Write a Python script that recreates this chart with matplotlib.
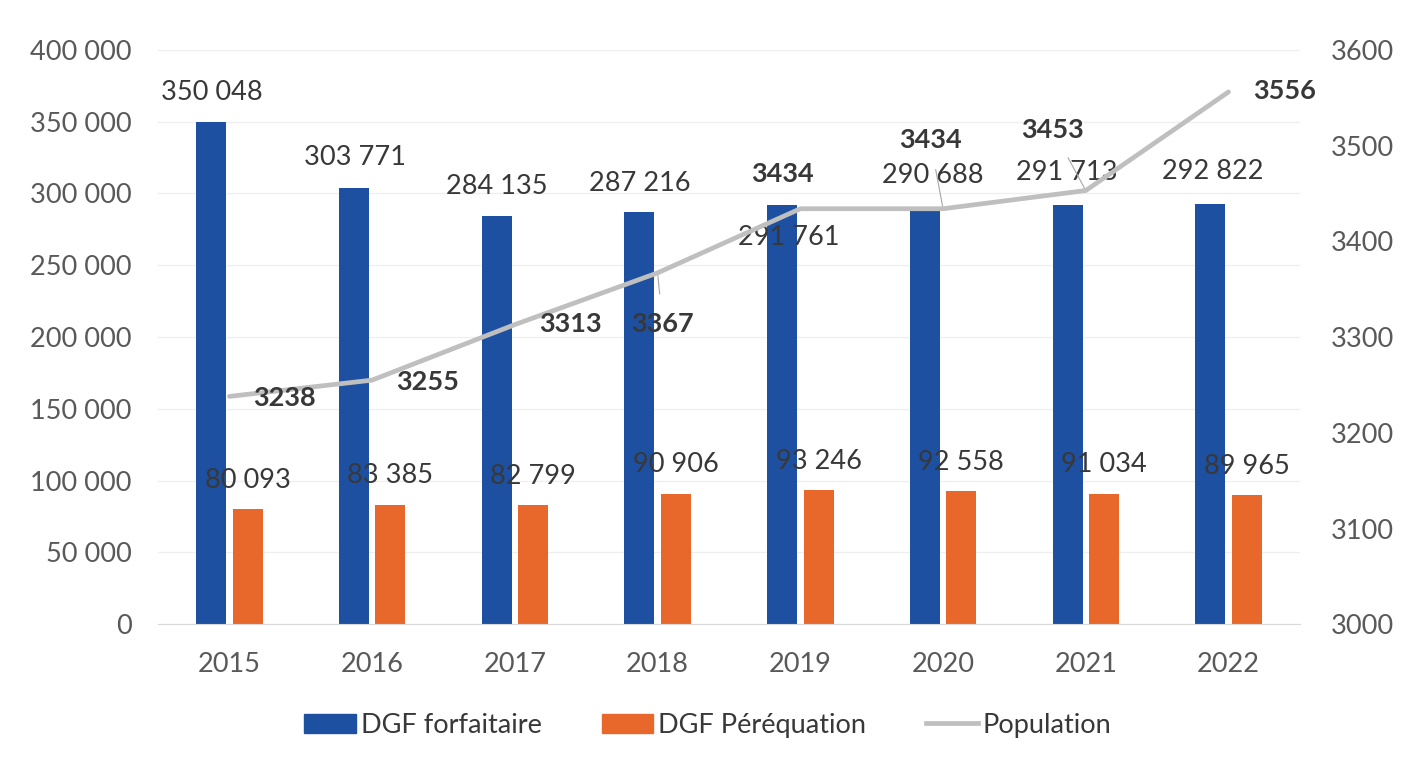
import matplotlib
matplotlib.use("Agg")
import matplotlib.pyplot as plt
from matplotlib.patches import Patch
from matplotlib.lines import Line2D
from matplotlib.ticker import FuncFormatter, MultipleLocator

years = ["2015", "2016", "2017", "2018", "2019", "2020", "2021", "2022"]
dgf_forfaitaire = [350048, 303771, 284135, 287216, 291761, 290688, 291713, 292822]
dgf_perequation = [80093, 83385, 82799, 90906, 93246, 92558, 91034, 89965]
population = [3238, 3255, 3313, 3367, 3434, 3434, 3453, 3556]

# label offsets in pixels (dx, dy) -- styling only
blue_off = [(1, 29), (1, 30), (0, 30), (0, 28), (7, -32), (8, 31), (-1, 33), (2, 32)]
pop_off = [(55, -2), (55, -2), (56, 1), (5, -51), (-18, 35), (-13, 69), (-33, 61), (56, 1)]
pop_leader = [False, False, False, True, False, True, True, False]

BLUE = "#1D50A0"
ORANGE = "#E8672A"
GRAY = "#BFBFBF"
TXT = "#383838"
TICK = "#595959"
FONT = "Lato"

plt.rcParams["font.family"] = [FONT, "DejaVu Sans"]

fig = plt.figure(figsize=(14.16, 7.66), dpi=100)
ax = fig.add_axes([0.1116, 0.185, 0.8064, 0.75])
ax2 = ax.twinx()

x = list(range(len(years)))
w = 0.21
off = 0.128
xb = [i - off for i in x]
xo = [i + off for i in x]
ax.bar(xb, dgf_forfaitaire, width=w, color=BLUE, zorder=2)
ax.bar(xo, dgf_perequation, width=w, color=ORANGE, zorder=2)
ax2.plot(x, population, color=GRAY, lw=3.4, zorder=3, solid_capstyle="round")

ax.set_xlim(-0.5, len(years) - 0.5)
ax.set_ylim(0, 400000)
ax2.set_ylim(3000, 3600)
ax.yaxis.set_major_locator(MultipleLocator(50000))
ax2.yaxis.set_major_locator(MultipleLocator(100))
ax.yaxis.set_major_formatter(FuncFormatter(lambda v, p: f"{int(v):,}".replace(",", " ")))
ax.set_xticks(x)
ax.set_xticklabels(years)

fs = 19.5
for a in (ax, ax2):
    for s in a.spines.values():
        s.set_visible(False)
    a.tick_params(length=0, labelsize=fs, labelcolor=TICK)
ax.spines["bottom"].set_visible(True)
ax.spines["bottom"].set_color("#D9D9D9")
ax.tick_params(axis="x", pad=20)
ax.tick_params(axis="y", pad=19)
ax2.tick_params(axis="y", pad=22)
ax.grid(axis="y", color="#EFEFEF", lw=0.9, zorder=0)
ax.set_axisbelow(True)

pt = 0.72
for i, v in enumerate(dgf_forfaitaire):
    dx, dy = blue_off[i]
    ax.annotate(f"{v:,}".replace(",", " "), (xb[i], v), xytext=(dx * pt, dy * pt),
                textcoords="offset points", ha="center", va="center",
                fontsize=fs, color=TXT, zorder=5)
for i, v in enumerate(dgf_perequation):
    ax.annotate(f"{v:,}".replace(",", " "), (xo[i], v), xytext=(0, 29 * pt),
                textcoords="offset points", ha="center", va="center",
                fontsize=fs, color=TXT, zorder=5)
for i, v in enumerate(population):
    dx, dy = pop_off[i]
    kw = {}
    if pop_leader[i]:
        kw["arrowprops"] = dict(arrowstyle="-", color="#A6A6A6", lw=0.8,
                                shrinkA=11, shrinkB=2)
    ax2.annotate(str(v), (i, v), xytext=(dx * pt, dy * pt),
                 textcoords="offset points", ha="center", va="center",
                 fontsize=fs, color=TXT, fontweight="bold", zorder=6, **kw)

handles = [Patch(color=BLUE), Patch(color=ORANGE), Line2D([], [], color=GRAY, lw=3.4)]
fig.legend(handles, ["DGF forfaitaire", "DGF Péréquation", "Population"],
           loc="center", bbox_to_anchor=(0.5, 0.053), ncol=3, frameon=False,
           fontsize=fs, labelcolor=TXT, columnspacing=2.2, handlelength=1.9,
           handletextpad=0.2, handleheight=0.75)

fig.savefig("out.png", dpi=100, facecolor="white")
